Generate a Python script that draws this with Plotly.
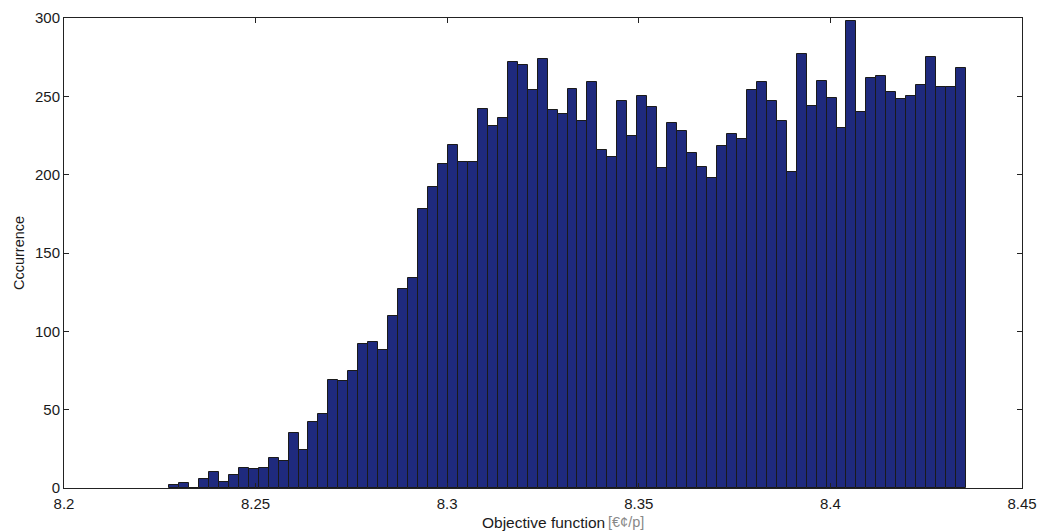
import plotly.graph_objects as go

# Histogram data
bin_start = 8.2274
bin_width = 0.0026
counts = [2, 3, 0, 6, 10, 4, 8, 13, 12, 13,
          19, 17, 35, 24, 42, 47, 69, 68, 75, 92,
          93, 88, 110, 127, 134, 178, 192, 207, 219, 208,
          208, 242, 231, 236, 272, 270, 254, 274, 241, 239,
          255, 234, 259, 216, 211, 247, 225, 250, 243, 204,
          233, 228, 214, 205, 198, 218, 226, 223, 254, 259,
          247, 234, 202, 277, 244, 260, 249, 230, 298, 240,
          262, 263, 253, 248, 250, 257, 275, 256, 256, 268]
x_ticks = [8.2, 8.25, 8.3, 8.35, 8.4, 8.45]
x_ticklabels = ["8.2", "8.25", "8.3", "8.35", "8.4", "8.45"]
y_ticks = [0, 50, 100, 150, 200, 250, 300]
x_title = "Objective function"
x_unit = "[€¢/p]"
y_title = "Cccurrence"

centers = [bin_start + bin_width * (i + 0.5) for i in range(len(counts))]

fig = go.Figure(go.Bar(
    x=centers, y=counts, width=[bin_width] * len(counts),
    marker=dict(color="#1f2a7e", line=dict(color="#1a1a1a", width=1)),
    hoverinfo="x+y",
))

font = dict(family="Liberation Sans, Arial, sans-serif", size=15, color="#1a1a1a")
fig.update_layout(
    width=1046, height=531,
    margin=dict(l=64, r=24, t=18, b=43),
    paper_bgcolor="white", plot_bgcolor="white",
    bargap=0, showlegend=False, font=font,
)
fig.update_xaxes(
    range=[8.2, 8.45], tickvals=x_ticks, ticktext=x_ticklabels,
    ticks="inside", ticklen=5, tickcolor="#222", showline=True, linecolor="#222",
    linewidth=1, mirror="allticks", showgrid=False, zeroline=False,
    tickfont=dict(size=15), ticklabelstandoff=2, automargin=False,
)
fig.update_yaxes(
    range=[0, 300], tickvals=y_ticks,
    ticks="inside", ticklen=5, tickcolor="#222", showline=True, linecolor="#222",
    linewidth=1, mirror="allticks", showgrid=False, zeroline=False,
    tickfont=dict(size=15), automargin=False,
    title=dict(text=y_title, standoff=6, font=dict(size=14.5)),
)
# x-axis label: main text centered under the plot, unit appended in grey
fig.add_annotation(text=x_title, xref="paper", yref="paper", x=0.5, y=-(522 - 488) / 470,
                   xanchor="center", yanchor="middle", showarrow=False, borderpad=0,
                   font=dict(size=15.5, color="#1a1a1a"))
fig.add_annotation(text=x_unit, xref="paper", yref="paper", x=0.5 + 64 / 958, y=-(522 - 488) / 470,
                   xanchor="left", yanchor="middle", showarrow=False, borderpad=0,
                   font=dict(size=14.5, color="#888888"))
fig.write_html("out.html")
